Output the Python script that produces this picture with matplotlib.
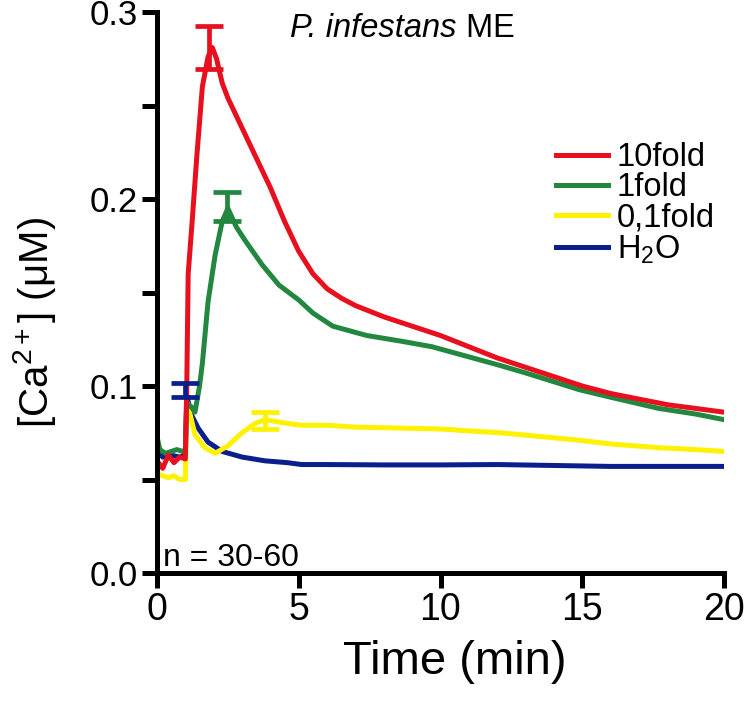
import matplotlib.pyplot as plt

plt.rcParams['font.family'] = 'Liberation Sans'
plt.rcParams['mathtext.fontset'] = 'custom'
plt.rcParams['mathtext.rm'] = 'Liberation Sans'
plt.rcParams['mathtext.it'] = 'Liberation Sans:italic'
plt.rcParams['mathtext.bf'] = 'Liberation Sans:bold'

# 10fold
t_red = [0, 0.2, 0.4, 0.6, 0.8, 1.0, 1.05, 1.1, 1.25, 1.4, 1.6, 1.8, 1.95, 2.1, 2.3, 2.5,
         2.75, 3.0, 3.5, 4.0, 4.5, 5.0, 5.5, 6.0, 6.5, 7.0, 8.0, 9.0, 10.0, 11.0, 12.0,
         13.0, 14.0, 15.0, 16.0, 17.0, 18.0, 19.0, 20.0]
v_red = [0.060, 0.056, 0.063, 0.059, 0.062, 0.061, 0.100, 0.160, 0.190, 0.222, 0.260, 0.276,
         0.281, 0.275, 0.262, 0.254, 0.246, 0.238, 0.222, 0.206, 0.188, 0.172, 0.160, 0.152,
         0.147, 0.143, 0.137, 0.132, 0.127, 0.121, 0.115, 0.110, 0.105, 0.100, 0.096, 0.093,
         0.090, 0.088, 0.086]

# 1fold
t_green = [0, 0.1, 0.3, 0.5, 0.7, 0.9, 1.0, 1.05, 1.2, 1.34, 1.5, 1.6, 1.8, 2.05, 2.3, 2.5,
           2.8, 3.1, 3.7, 4.3, 5.0, 5.5, 6.2, 7.4, 8.6, 9.7, 10.9, 12.1, 13.0, 14.9, 16.0,
           17.7, 19.0, 20.0]
v_green = [0.073, 0.066, 0.064, 0.065, 0.066, 0.065, 0.066, 0.091, 0.089, 0.086, 0.100, 0.112,
           0.145, 0.170, 0.188, 0.195, 0.185, 0.178, 0.165, 0.154, 0.146, 0.139, 0.132, 0.127,
           0.124, 0.121, 0.116, 0.111, 0.107, 0.098, 0.094, 0.088, 0.085, 0.082]

# 0,1fold
t_yellow = [0, 0.2, 0.4, 0.6, 0.8, 1.0, 1.05, 1.1, 1.34, 1.69, 2.05, 2.5, 3.0, 3.46, 3.8, 4.6,
            5.1, 6.0, 7.0, 8.6, 10.0, 11.0, 12.1, 12.8, 14.9, 16.0, 17.7, 19.0, 20.0]
v_yellow = [0.053, 0.052, 0.051, 0.052, 0.050, 0.050, 0.091, 0.089, 0.074, 0.067, 0.064, 0.068,
            0.075, 0.080, 0.082, 0.080, 0.079, 0.079, 0.078, 0.0775, 0.077, 0.076, 0.075, 0.074,
            0.071, 0.069, 0.067, 0.066, 0.065]

# H2O
t_blue = [0, 0.2, 0.5, 0.8, 1.0, 1.05, 1.2, 1.45, 1.8, 2.3, 3.0, 3.8, 4.6, 5.1, 6.0, 8.0,
          10.0, 12.0, 14.0, 16.0, 18.0, 20.0]
v_blue = [0.067, 0.062, 0.063, 0.062, 0.063, 0.095, 0.085, 0.0775, 0.070, 0.065, 0.062, 0.060,
          0.059, 0.058, 0.058, 0.0578, 0.0578, 0.058, 0.0575, 0.057, 0.057, 0.057]

# error bars (time, mean, sem)
err_red = (1.85, 0.281, 0.0115)
err_green = (2.47, 0.196, 0.008)
err_yellow = (3.8, 0.0815, 0.0045)
err_blue = (0.99, 0.0977, 0.0038)

red = '#e8101e'
green = '#22883f'
yellow = '#fff200'
blue = '#0a1f8c'

fig = plt.figure(figsize=(7.45, 7.08), dpi=100)
ax = fig.add_axes([157/745, 1 - 573/708, 567/745, 561/708])

lb, = ax.plot(t_blue, v_blue, color=blue, lw=3.6, label='H$_2$O')
ly, = ax.plot(t_yellow, v_yellow, color=yellow, lw=3.6, label='0,1fold')
lg, = ax.plot(t_green, v_green, color=green, lw=3.6, label='1fold')
lr, = ax.plot(t_red, v_red, color=red, lw=3.6, label='10fold')

for (t, v, e), c in [(err_blue, blue), (err_yellow, yellow), (err_green, green), (err_red, red)]:
    ax.errorbar([t], [v], yerr=[e], fmt='none', ecolor=c, elinewidth=3.4,
                capsize=10, capthick=3.4)

ax.set_xlim(0, 20)
ax.set_ylim(0, 0.3)
ax.set_xticks([0, 5, 10, 15, 20])
ax.set_yticks([0.0, 0.1, 0.2, 0.3])
ax.set_yticklabels(['0.0', '0.1', '0.2', '0.3'])
ax.set_yticks([0.05, 0.15, 0.25], minor=True)

for s in ['top', 'right']:
    ax.spines[s].set_visible(False)
for s in ['left', 'bottom']:
    ax.spines[s].set_linewidth(3.6)
    ax.spines[s].set_capstyle('projecting')

ax.tick_params(axis='both', which='both', direction='out', width=3.6, length=11, pad=3)
ax.tick_params(axis='x', labelsize=27)
ax.tick_params(axis='y', labelsize=25)

ax.set_xlabel('Time (min)', fontsize=34)
ax.xaxis.set_label_coords(0.526, -0.12)
ax.set_ylabel('[Ca$^{2+}$] (μM)', fontsize=29)
ax.yaxis.set_label_coords(-0.175, 0.447)

t1 = ax.text(4.7, 0.291, 'P. infestans', fontsize=23.5, fontstyle='italic',
             va='center', ha='left')
ax.annotate(' ME', xy=(1, 0), xycoords=t1, va='bottom', ha='left', fontsize=23.5)
ax.text(0.22, 0.004, 'n = 30-60', fontsize=23, va='baseline', ha='left')

ax.legend(handles=[lr, lg, ly, lb], loc='upper left', bbox_to_anchor=(0.704, 0.768),
          frameon=False, fontsize=23.5, handlelength=1.6, handletextpad=0.25,
          labelspacing=-0.02, borderpad=0, borderaxespad=0)

fig.savefig('out.png', dpi=100)
